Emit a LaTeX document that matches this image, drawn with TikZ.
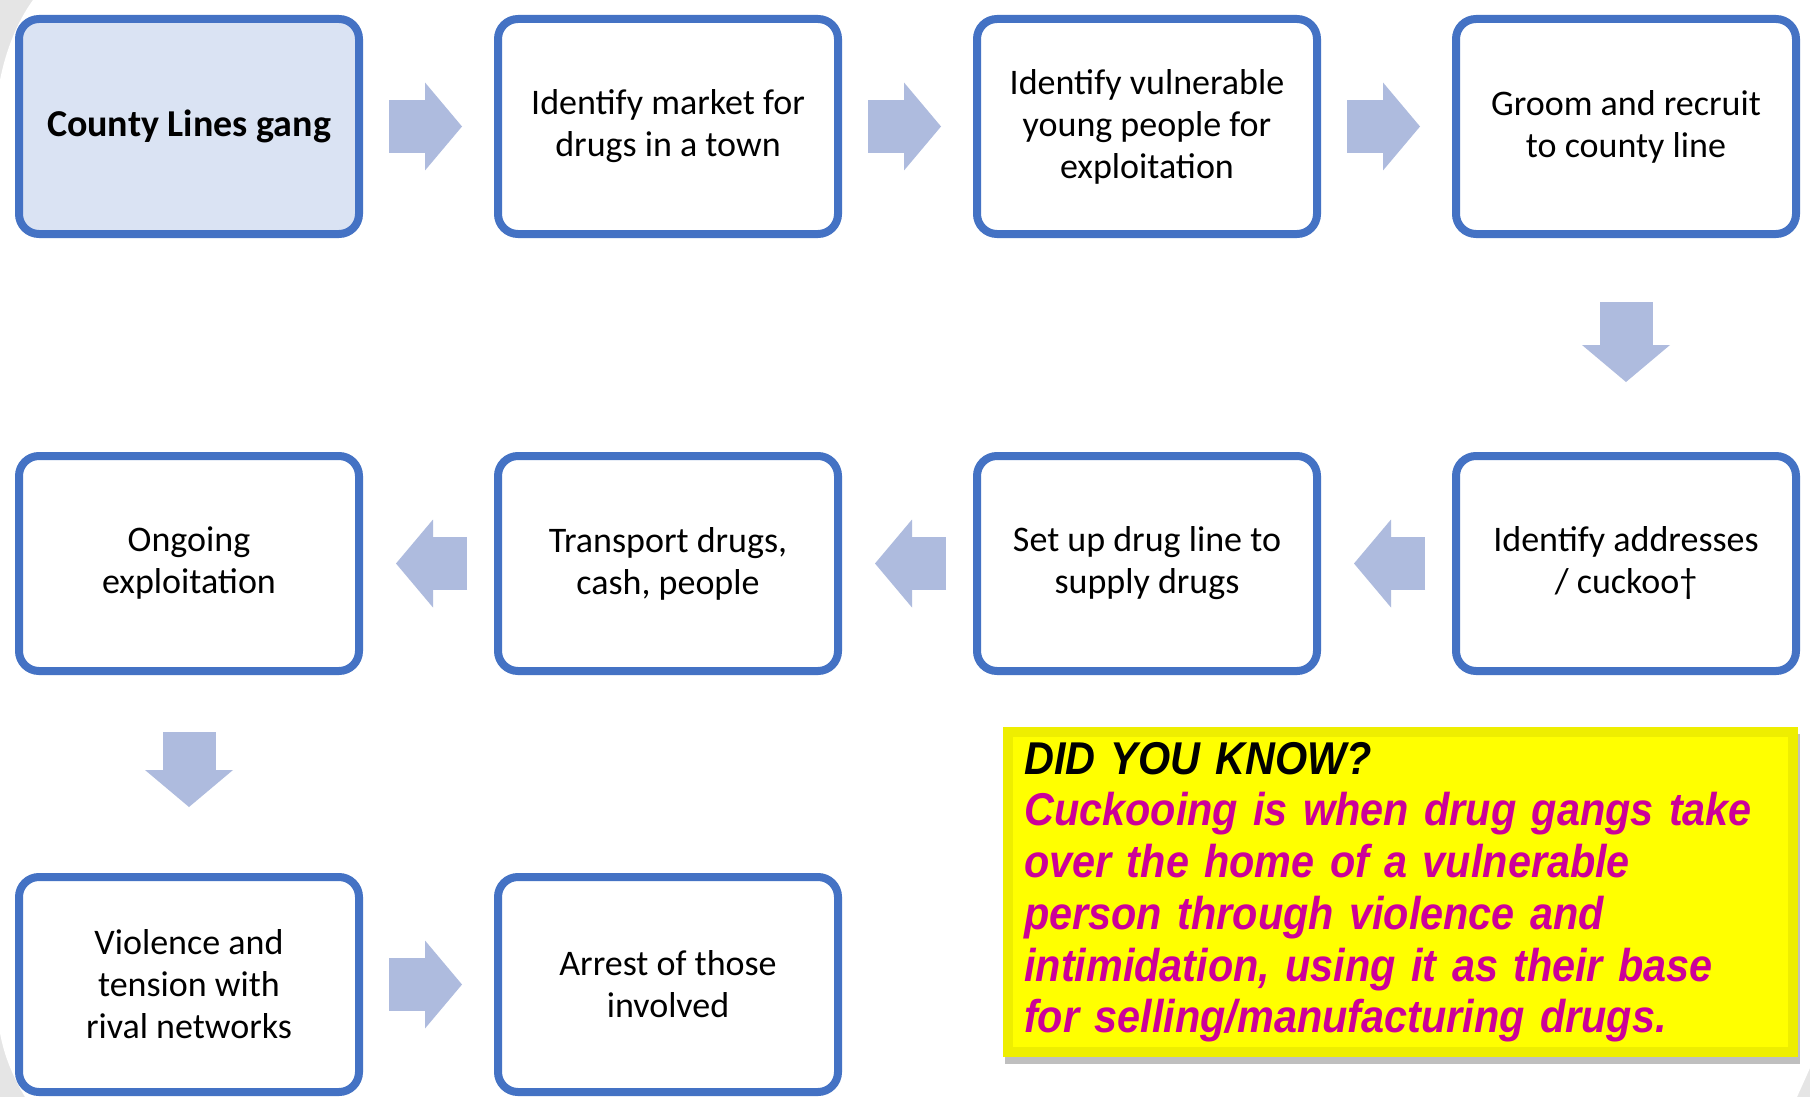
\documentclass[tikz,border=0pt]{standalone}
\usepackage{fontspec}
\setmainfont{Carlito}
\newfontfamily\factfont[FakeStretch = 0.9]{Liberation Sans}
\usetikzlibrary{arrows.meta}
\usetikzlibrary{positioning}
\usetikzlibrary{shadows}
\definecolor{boxblue}{RGB}{68,114,196}
\definecolor{gangfill}{RGB}{218,227,243}
\definecolor{arrowblue}{RGB}{174,187,222}
\definecolor{factpink}{RGB}{204,0,153}
\definecolor{factedge}{RGB}{238,238,0}
\definecolor{factfill}{RGB}{255,255,0}
\definecolor{bggray}{RGB}{229,229,229}
\tikzset{x = 1pt, y = -1pt, node distance = 131pt,
  stepbox/.style = {draw = boxblue, line width = 8pt, rounded corners = 20pt, fill = white,
    minimum width = 340pt, minimum height = 215pt, align = center,
    font = \fontsize{36}{42}\selectfont},
  flow/.style = {draw = arrowblue, line width = 53pt,
    -{Triangle[length = 37pt, width = 88pt, line width = 0pt]}},
  factbox/.style = {fill = factedge, minimum width = 795pt, minimum height = 330pt,
    text width = 753pt, inner xsep = 21pt, inner ysep = 0pt, align = left, text = factpink,
    font = \factfont\bfseries\itshape\fontsize{46}{51.7}\selectfont,
    drop shadow = {shadow xshift = 2pt, shadow yshift = -7pt, opacity = 0.25, fill = black},
    path picture = {\fill [factfill] ([shift = {(10,10)}] path picture bounding box.north west)
      rectangle ([shift = {(-10,-10)}] path picture bounding box.south east);}}}

\begin{document}
\begin{tikzpicture}
  \useasboundingbox (0,0) rectangle (1810,1097);
  % background
  \fill [bggray] (0,0) rectangle (1810,1097);
  \fill [white] (33,0) -- (1810,0) -- (1810,1068) -- (1797,1097) -- (25,1097)
    .. controls (12,1075) and (4,1055) .. (0,1033) -- (0,80)
    .. controls (6,50) and (17,22) .. (33,0) -- cycle;
  % nodes
  \node (gang) [stepbox, fill = gangfill, font = \fontsize{38}{44}\selectfont\bfseries] at (189,126.5) {County Lines gang};
  \node (market) [stepbox, right = of gang] {Identify market for\\drugs in a town};
  \node (young) [stepbox, right = of market] {Identify vulnerable\\young people for\\exploitation};
  \node (groom) [stepbox, right = of young] {Groom and recruit\\to county line};
  \node (cuckoo) [stepbox, below = 214pt of groom] {Identify addresses\\/ cuckoo†};
  \node (dline) [stepbox, left = of cuckoo] {Set up drug line to\\supply drugs};
  \node (transport) [stepbox, left = of dline] {Transport drugs,\\cash, people};
  \node (ongoing) [stepbox, left = of transport] {Ongoing\\exploitation};
  \node (violence) [stepbox, below = 198pt of ongoing] {Violence and\\tension with\\rival networks};
  \node (arrest) [stepbox, right = of violence] {Arrest of those\\involved};
  \node (fact) [factbox, anchor = north west] at (1003,727)
    {\textcolor{black}{DID YOU KNOW?}\\
     Cuckooing is when drug gangs take\\
     over the home of a vulnerable\\
     person through violence and\\
     intimidation, using it as their base\\
     for selling/manufacturing drugs.};
  % edges
  \draw [flow] ([xshift = 26pt] gang.east) -- ([xshift = -32pt] market.west);
  \draw [flow] ([xshift = 26pt] market.east) -- ([xshift = -32pt] young.west);
  \draw [flow] ([xshift = 26pt] young.east) -- ([xshift = -32pt] groom.west);
  \draw [flow] ([yshift = -64pt] groom.south) -- ([yshift = 70pt] cuckoo.north);
  \draw [flow] ([xshift = -27pt] cuckoo.west) -- ([xshift = 33pt] dline.east);
  \draw [flow] ([xshift = -27pt] dline.west) -- ([xshift = 33pt] transport.east);
  \draw [flow] ([xshift = -27pt] transport.west) -- ([xshift = 33pt] ongoing.east);
  \draw [flow] ([yshift = -57pt] ongoing.south) -- ([yshift = 66pt] violence.north);
  \draw [flow] ([xshift = 26pt] violence.east) -- ([xshift = -32pt] arrest.west);
\end{tikzpicture}
\end{document}
